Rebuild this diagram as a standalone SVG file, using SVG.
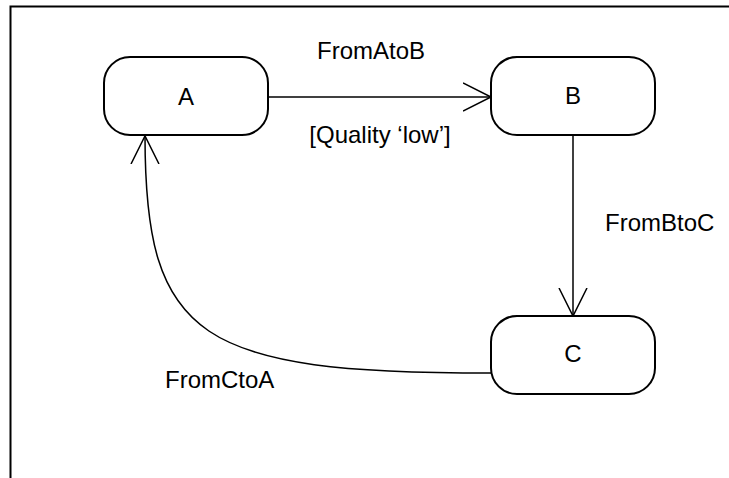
<svg xmlns="http://www.w3.org/2000/svg" width="729" height="478" viewBox="0 0 729 478">
<style>
.node{fill:#fff;stroke:#000;stroke-width:2}
.lbl{font-family:"Liberation Sans",Arial,sans-serif;font-size:24px;fill:#000}
.c{text-anchor:middle}
.edge{fill:none;stroke:#000;stroke-width:1.5}
</style>
<defs>
<marker id="open" viewBox="0 0 30 30" refX="28" refY="15" markerWidth="30" markerHeight="30" markerUnits="userSpaceOnUse" orient="auto">
<path d="M0,1 L28,15 L0,29" fill="none" stroke="#000" stroke-width="1.5"/>
</marker>
</defs>
<rect width="729" height="478" fill="#fff"/>
<path d="M10.5,478 V6.5 H729" fill="none" stroke="#000" stroke-width="2"/>
<g id="edges">
<g id="e-AB"><path class="edge" d="M268,97 H491" marker-end="url(#open)"/><text class="lbl c" x="371" y="59">FromAtoB</text><text class="lbl c" x="380" y="143">[Quality ‘low’]</text></g>
<g id="e-BC"><path class="edge" d="M573,135 V316" marker-end="url(#open)"/><text class="lbl" x="605" y="231">FromBtoC</text></g>
<g id="e-CA"><path class="edge" d="M491,373 C200,373 145,340 145,136" marker-end="url(#open)"/><text class="lbl" x="165" y="388">FromCtoA</text></g>
</g>
<g id="A"><rect class="node" x="104" y="57" width="164" height="78" rx="26"/><text class="lbl c" x="186" y="105">A</text></g>
<g id="B"><rect class="node" x="491" y="57" width="164" height="78" rx="26"/><text class="lbl c" x="573" y="104">B</text></g>
<g id="C"><rect class="node" x="491" y="316" width="164" height="78" rx="26"/><text class="lbl c" x="573" y="362">C</text></g>
</svg>
